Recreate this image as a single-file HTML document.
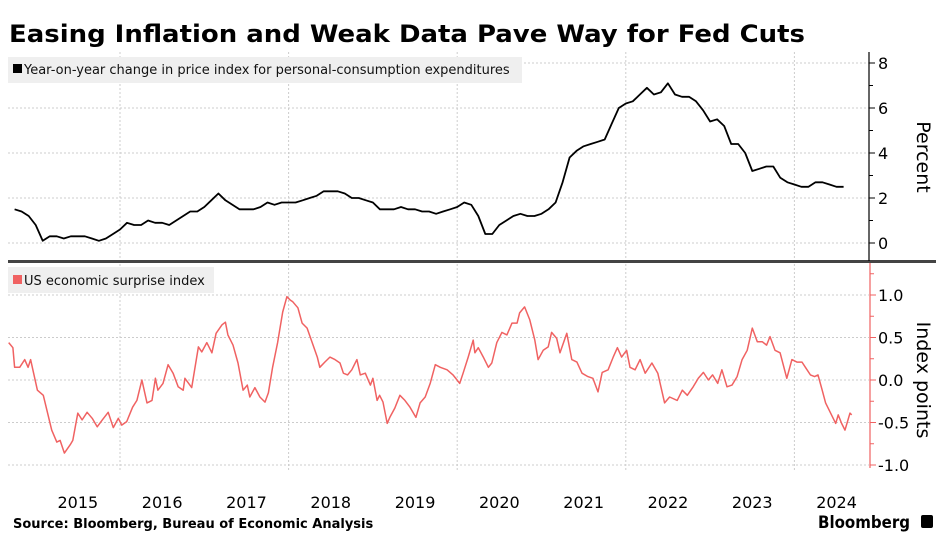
<!DOCTYPE html>
<html><head><meta charset="utf-8"><style>
body{margin:0;background:#fff;width:945px;height:542px;overflow:hidden;font-family:"Liberation Sans",sans-serif}
svg text{font-family:"DejaVu Sans","Liberation Sans",sans-serif}
</style></head><body>
<svg id="chart" width="945" height="542">
<text x="9" y="42" font-size="24" font-weight="bold" fill="#000" textLength="796" lengthAdjust="spacingAndGlyphs">Easing Inflation and Weak Data Pave Way for Fed Cuts</text>
<g id="grid"></g>
<rect x="8" y="57" width="514" height="26" fill="#efefef"/>
<rect x="13" y="64" width="9" height="9" fill="#000"/>
<text x="24" y="74" font-size="13" fill="#111">Year-on-year change in price index for personal-consumption expenditures</text>
<rect x="8" y="267" width="206" height="26" fill="#efefef"/>
<rect x="13" y="275" width="9" height="9" fill="#f06262"/>
<text x="24" y="285" font-size="13" fill="#111">US economic surprise index</text>
<rect x="8" y="260" width="928" height="3" fill="#444"/>
<g id="axes"></g>
<g id="series"></g>
<text transform="translate(917,157) rotate(90)" font-size="19" text-anchor="middle" fill="#000">Percent</text>
<text transform="translate(917,380) rotate(90)" font-size="19" text-anchor="middle" fill="#000">Index points</text>
<text x="13" y="528" font-size="13" font-weight="bold" fill="#000">Source: Bloomberg, Bureau of Economic Analysis</text>
<text x="818" y="528" font-size="17" font-weight="bold" fill="#000" textLength="92" lengthAdjust="spacingAndGlyphs">Bloomberg</text>
<rect x="921" y="515" width="12" height="13" rx="2" fill="#000"/>
</svg>
<script>
const pceStart = 2014 + 9/12; // Sep 2014
const pceValues = [1.5,1.4,1.2,0.8,
0.1,0.3,0.3,0.2,0.3,0.3,0.3,0.2,0.1,0.2,0.4,0.6,
0.9,0.8,0.8,1.0,0.9,0.9,0.8,1.0,1.2,1.4,1.4,1.6,
1.9,2.2,1.9,1.7,1.5,1.5,1.5,1.6,1.8,1.7,1.8,1.8,
1.8,1.9,2.0,2.1,2.3,2.3,2.3,2.2,2.0,2.0,1.9,1.8,
1.5,1.5,1.5,1.6,1.5,1.5,1.4,1.4,1.3,1.4,1.5,1.6,
1.8,1.7,1.2,0.4,0.4,0.8,1.0,1.2,1.3,1.2,1.2,1.3,
1.5,1.8,2.7,3.8,4.1,4.3,4.4,4.5,4.6,5.3,6.0,6.2,
6.3,6.6,6.9,6.6,6.7,7.1,6.6,6.5,6.5,6.3,5.9,5.4,
5.5,5.2,4.4,4.4,4.0,3.2,3.3,3.4,3.4,2.9,2.7,2.6,
2.5,2.5,2.7,2.7,2.6,2.5,2.5];
const surpriseDates = [2014.68,2014.73,2014.75,2014.81,2014.87,2014.91,2014.94,2015.02,2015.09,2015.19,2015.25,2015.29,2015.34,2015.41,2015.44,2015.50,2015.55,2015.61,2015.67,2015.73,2015.79,2015.86,2015.92,2015.98,2016.02,2016.08,2016.15,2016.20,2016.26,2016.32,2016.38,2016.42,2016.45,2016.51,2016.57,2016.63,2016.69,2016.75,2016.77,2016.85,2016.93,2016.97,2017.03,2017.09,2017.14,2017.21,2017.25,2017.28,2017.34,2017.40,2017.46,2017.51,2017.54,2017.60,2017.66,2017.72,2017.76,2017.81,2017.87,2017.93,2017.98,2018.02,2018.05,2018.11,2018.16,2018.22,2018.28,2018.34,2018.37,2018.43,2018.49,2018.55,2018.61,2018.65,2018.70,2018.75,2018.81,2018.85,2018.91,2018.97,2019.00,2019.05,2019.08,2019.12,2019.17,2019.20,2019.26,2019.32,2019.38,2019.44,2019.51,2019.56,2019.62,2019.68,2019.74,2019.80,2019.88,2019.95,
2020.03,2020.07,2020.13,2020.19,2020.21,2020.25,2020.31,2020.37,2020.41,2020.47,2020.53,2020.59,2020.65,2020.71,2020.74,2020.80,2020.86,2020.92,2020.96,2021.02,2021.08,2021.12,2021.18,2021.22,2021.30,2021.36,2021.42,2021.48,2021.55,2021.61,2021.67,2021.72,2021.79,2021.85,2021.90,2021.95,2022.01,2022.05,2022.11,2022.17,2022.23,2022.31,2022.38,2022.46,2022.52,2022.61,2022.67,2022.73,2022.80,2022.86,2022.92,2022.98,2023.03,2023.09,2023.14,2023.20,2023.26,2023.32,2023.38,2023.44,2023.50,2023.56,2023.62,2023.67,2023.71,2023.77,2023.83,2023.91,2023.97,2024.03,2024.09,2024.13,2024.19,2024.24,2024.28,2024.33,2024.37,2024.43,2024.49,2024.52,2024.56,2024.60,2024.66,2024.68];
const surpriseValues = [0.44,0.38,0.15,0.15,0.24,0.15,0.24,-0.12,-0.18,-0.59,-0.73,-0.71,-0.86,-0.76,-0.71,-0.39,-0.47,-0.38,-0.45,-0.55,-0.47,-0.38,-0.56,-0.45,-0.53,-0.49,-0.32,-0.24,0,-0.27,-0.24,0.02,-0.12,-0.04,0.18,0.08,-0.08,-0.12,0.02,-0.09,0.39,0.33,0.44,0.32,0.55,0.65,0.68,0.53,0.41,0.2,-0.12,-0.06,-0.2,-0.09,-0.2,-0.26,-0.15,0.15,0.44,0.8,0.98,0.94,0.92,0.85,0.67,0.61,0.44,0.27,0.15,0.21,0.27,0.24,0.2,0.08,0.06,0.12,0.24,0.06,0.08,-0.06,0.02,-0.24,-0.18,-0.26,-0.51,-0.44,-0.33,-0.18,-0.24,-0.32,-0.44,-0.27,-0.2,-0.04,0.18,0.15,0.12,0.06,
-0.04,0.08,0.27,0.47,0.32,0.38,0.27,0.15,0.2,0.44,0.56,0.53,0.67,0.67,0.79,0.86,0.71,0.47,0.24,0.35,0.39,0.56,0.49,0.32,0.55,0.24,0.21,0.08,0.04,0.02,-0.14,0.09,0.12,0.27,0.38,0.27,0.35,0.15,0.12,0.24,0.08,0.2,0.08,-0.27,-0.2,-0.24,-0.12,-0.18,-0.08,0.02,0.09,0,0.06,-0.04,0.12,-0.08,-0.06,0.04,0.24,0.35,0.61,0.45,0.45,0.41,0.51,0.35,0.32,0.02,0.24,0.21,0.21,0.15,0.06,0.04,0.06,-0.12,-0.27,-0.39,-0.51,-0.41,-0.51,-0.59,-0.39,-0.41];
const yearLabels = ["2015","2016","2017","2018","2019","2020","2021","2022","2023","2024"];
const pceTicks = [0,2,4,6,8];
const surpriseTicks = ["1.0","0.5","0.0","-0.5","-1.0"];

const NS="http://www.w3.org/2000/svg";
const xS = t => 120 + (t-2016)*84.3;
const yTop = v => 243 - v*22.5;
const yBot = v => 380 - v*85;
function mk(tag, attrs, parent){const e=document.createElementNS(NS,tag);for(const k in attrs)e.setAttribute(k,attrs[k]);parent.appendChild(e);return e;}
const grid=document.getElementById('grid'), axes=document.getElementById('axes'), series=document.getElementById('series');

for(let y=2016;y<=2024;y+=2){
  const l=mk('line',{x1:xS(y),x2:xS(y),y1:52,y2:470,stroke:'#ccc','stroke-dasharray':'2,2'},grid);
  
  
}
pceTicks.forEach(v=>{
  const g=mk('line',{x1:8,x2:869,y1:yTop(v),y2:yTop(v),stroke:'#ccc','stroke-dasharray':'2,2'},grid);
  
  
  mk('line',{x1:869,x2:875,y1:yTop(v),y2:yTop(v),stroke:'#000'},axes);
  const t=mk('text',{x:878,y:yTop(v)+6,'font-size':16,fill:'#000'},axes);
  t.textContent=v;
  
  
});
[1,3,5,7].forEach(v=>mk('line',{x1:869,x2:873,y1:yTop(v),y2:yTop(v),stroke:'#000'},axes));
mk('line',{x1:869,x2:869,y1:52,y2:261,stroke:'#000','stroke-width':1.2},axes);
surpriseTicks.forEach(s=>{
  const v=parseFloat(s);
  const g=mk('line',{x1:8,x2:869,y1:yBot(v),y2:yBot(v),stroke:'#ccc','stroke-dasharray':'2,2'},grid);
  
  
  mk('line',{x1:870,x2:876,y1:yBot(v),y2:yBot(v),stroke:'#f06262'},axes);
  const t=mk('text',{x:878,y:yBot(v)+6,'font-size':16,fill:'#000'},axes);
  t.textContent=s;
  
  
});
[0.75,0.25,-0.25,-0.75,1.25].forEach(v=>mk('line',{x1:870,x2:874,y1:yBot(v),y2:yBot(v),stroke:'#f06262'},axes));
mk('line',{x1:870,x2:870,y1:263,y2:468,stroke:'#f06262','stroke-width':1.2},axes);
yearLabels.forEach(s=>{
  const t=mk('text',{x:xS(parseInt(s)+0.5),y:508,'font-size':16,'text-anchor':'middle',fill:'#000'},axes);
  t.textContent=s;
  
  
});
const pceD=pceValues.map((v,i)=>(i?'L':'M')+xS(pceStart+i/12).toFixed(1)+','+yTop(v).toFixed(1)).join('');
const p1=mk('path',{d:pceD,fill:'none',stroke:'#000','stroke-width':1.8,'stroke-linejoin':'round'},series);


const sD=surpriseValues.map((v,i)=>(i?'L':'M')+xS(surpriseDates[i]).toFixed(1)+','+yBot(v).toFixed(1)).join('');
const p2=mk('path',{d:sD,fill:'none',stroke:'#f06262','stroke-width':1.5,'stroke-linejoin':'round'},series);


</script>
</body></html>
